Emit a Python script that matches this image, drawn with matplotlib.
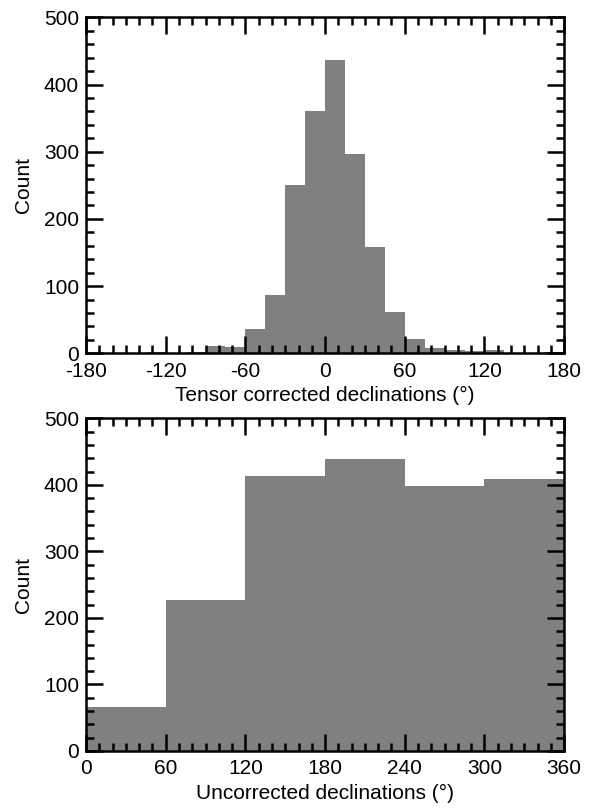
import numpy as np
import matplotlib
matplotlib.use('Agg')
import matplotlib.pyplot as plt
from matplotlib.ticker import MultipleLocator

plt.rcParams['font.family'] = ['Liberation Sans', 'DejaVu Sans']
plt.rcParams['axes.unicode_minus'] = False

# Tensor corrected declinations, 15 degree bins from -180 to 180
corr_edges = [-180, -165, -150, -135, -120, -105, -90, -75, -60, -45, -30, -15,
              0, 15, 30, 45, 60, 75, 90, 105, 120, 135, 150, 165, 180]
corr_counts = [0, 0, 0, 2, 0, 2, 11, 9, 36, 87, 251, 361,
               436, 296, 158, 62, 21, 8, 5, 4, 5, 0, 0, 2]

# Uncorrected declinations, 60 degree bins from 0 to 360
unc_edges = [0, 60, 120, 180, 240, 300, 360]
unc_counts = [66, 227, 413, 439, 398, 409]

fig = plt.figure(figsize=(5.97, 8.09), dpi=100)
ax1 = fig.add_axes([0.144, 0.5633, 0.801, 0.4153])
ax2 = fig.add_axes([0.144, 0.0717, 0.801, 0.4112])

gray = '#808080'
ax1.stairs(corr_counts, corr_edges, fill=True, color=gray)
ax2.stairs(unc_counts, unc_edges, fill=True, color=gray)

def style(ax, xlo, xhi, xlabel):
    ax.set_xlim(xlo, xhi)
    ax.set_ylim(0, 500)
    ax.xaxis.set_major_locator(MultipleLocator(60))
    ax.xaxis.set_minor_locator(MultipleLocator(10))
    ax.yaxis.set_major_locator(MultipleLocator(100))
    ax.yaxis.set_minor_locator(MultipleLocator(20))
    ax.tick_params(which='both', direction='in', top=True, right=True,
                   width=1.8, labelsize=15, color='black')
    ax.tick_params(which='major', length=12)
    ax.tick_params(which='minor', length=6)
    ax.tick_params(axis='x', which='major', pad=6)
    ax.tick_params(axis='y', which='major', pad=5)
    for s in ax.spines.values():
        s.set_linewidth(1.8)
    ax.set_xlabel(xlabel, fontsize=15, labelpad=4)
    ax.set_ylabel('Count', fontsize=15, labelpad=8)

style(ax1, -180, 180, 'Tensor corrected declinations (°)')
style(ax2, 0, 360, 'Uncorrected declinations (°)')

fig.savefig('out.png', dpi=100)
